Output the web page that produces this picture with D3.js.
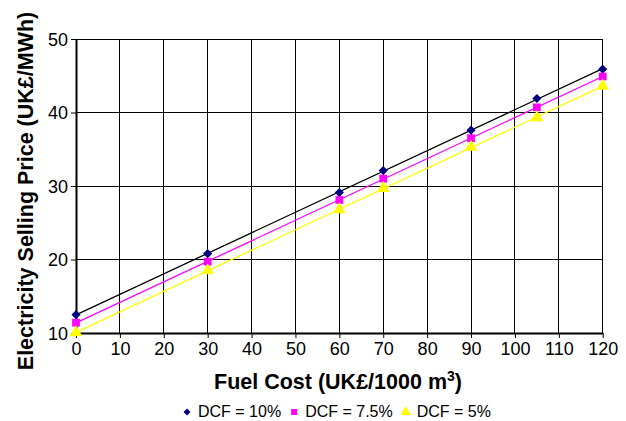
<!DOCTYPE html>
<html><head><meta charset="utf-8">
<script src="https://cdn.jsdelivr.net/npm/d3@7"></script>
<style>body{margin:0;background:#fff}svg{display:block}text{font-family:"Liberation Sans",Arial,sans-serif}</style>
</head><body>
<svg id="c" width="626" height="421"></svg>
<script>
const fuelCost = [0, 30, 60, 70, 90, 105, 120];
const dcf10 = [12.5, 20.8, 29.1, 32.1, 37.6, 41.9, 45.9];
const dcf75 = [11.4, 19.7, 28.1, 31.0, 36.5, 40.7, 44.9];
const dcf5 = [10.05, 18.5, 26.8, 29.7, 35.3, 39.3, 43.6];
const seriesNames = ["DCF = 10%", "DCF = 7.5%", "DCF = 5%"];
const xTicks = [0,10,20,30,40,50,60,70,80,90,100,110,120];
const yTicks = [10,20,30,40,50];

const series = [
  {name: seriesNames[0], values: dcf10, line: "#000000", marker: "#000080", shape: d3.symbolSquare, rot: 45, size: 42, lsize: 24},
  {name: seriesNames[1], values: dcf75, line: "#FF00FF", marker: "#FF00FF", shape: d3.symbolSquare, rot: 0, size: 60, lsize: 36},
  {name: seriesNames[2], values: dcf5, line: "#FFFF00", marker: "#FFFF00", shape: d3.symbolTriangle, rot: 0, size: 70, lsize: 45}
];

const svg = d3.select("#c");
const x = d3.scaleLinear().domain([0,120]).range([76, 602.7]);
const y = d3.scaleLinear().domain([10,50]).range([333, 39]);

// grid
const g = svg.append("g");
g.selectAll(".vx").data(xTicks.slice(1)).enter().append("line")
  .attr("x1", d=>x(d)).attr("x2", d=>x(d)).attr("y1", y(10)).attr("y2", y(50))
  .attr("stroke", "#000").attr("stroke-width", 1).attr("shape-rendering","crispEdges");
g.selectAll(".hy").data(yTicks.slice(1)).enter().append("line")
  .attr("x1", x(0)).attr("x2", x(120)).attr("y1", d=>y(d)).attr("y2", d=>y(d))
  .attr("stroke", "#000").attr("stroke-width", 1).attr("shape-rendering","crispEdges");

// axes
const xAxis = svg.append("g").attr("transform", `translate(0,${y(10)})`)
  .call(d3.axisBottom(x).tickValues(xTicks).tickSize(5).tickPadding(4).tickSizeOuter(0));
const yAxis = svg.append("g").attr("transform", `translate(${x(0)},0)`)
  .call(d3.axisLeft(y).tickValues(yTicks).tickSize(5).tickPadding(3).tickSizeOuter(0));
[xAxis, yAxis].forEach(a => {
  a.select(".domain").attr("stroke", "#000").attr("stroke-width", 2);
  a.selectAll(".tick line").attr("stroke", "#000");
  a.selectAll("text").attr("fill", "#000").style("font-size", "18px").style("font-family", '"Liberation Sans",Arial,sans-serif');
});
yAxis.selectAll("text").attr("dy", "0.35em");

// trend lines (least-squares fit of each series)
series.forEach(s => {
  const mx = d3.mean(fuelCost), my = d3.mean(s.values);
  let num = 0, den = 0;
  fuelCost.forEach((xv,i) => { num += (xv-mx)*(s.values[i]-my); den += (xv-mx)*(xv-mx); });
  const b = num/den, a = my - b*mx;
  svg.append("line")
    .attr("x1", x(0)).attr("y1", y(a)).attr("x2", x(120)).attr("y2", y(a+b*120))
    .attr("stroke", s.line).attr("stroke-width", 1.3);
});

// markers
series.forEach(s => {
  const sym = d3.symbol().type(s.shape).size(s.size);
  svg.append("g").selectAll("path").data(fuelCost).enter().append("path")
    .attr("d", sym)
    .attr("transform", (d,i) => `translate(${x(d)},${y(s.values[i])}) rotate(${s.rot})`)
    .attr("fill", s.marker);
});

// axis titles
svg.append("text").attr("x", 338).attr("y", 389).attr("text-anchor","middle")
  .style("font-size","21.5px").style("font-weight","bold")
  .html('Fuel Cost (UK£/1000 m<tspan dy="-8" font-size="14px">3</tspan><tspan dy="8">)</tspan>');
svg.append("text").attr("transform", `translate(33,191) rotate(-90)`).attr("text-anchor","middle")
  .style("font-size","21.5px").style("font-weight","bold")
  .text("Electricity Selling Price (UK£/MWh)");

// legend
const legend = svg.append("g");
let cx = 187;
series.forEach((s, i) => {
  const gi = legend.append("g").attr("transform", `translate(${cx},0)`);
  const sym = d3.symbol().type(s.shape).size(s.lsize);
  gi.append("path").attr("d", sym).attr("transform",`translate(0,412) rotate(${s.rot})`).attr("fill", s.marker);
  const t = gi.append("text").attr("x", 11).attr("y", 417).style("font-size","16px").text(s.name);
  cx += 11 + t.node().getComputedTextLength() + 13;
});
</script>
</body></html>
